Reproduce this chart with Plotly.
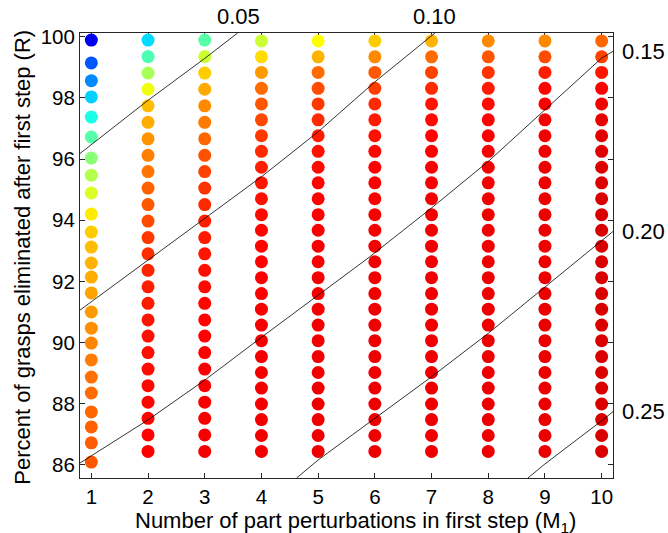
import plotly.graph_objects as go

# ---------------- data ----------------
M_values = [1, 2, 3, 4, 5, 6, 7, 8, 9, 10]

R_col1 = [99.89, 99.14, 98.56, 98.03, 97.37, 96.72, 96.03, 95.47, 94.89, 94.20,
          93.61, 93.12, 92.60, 92.14, 91.62, 91.00, 90.47, 89.98, 89.43, 88.87,
          88.35, 87.73, 87.24, 86.72, 86.09]
R_col2_3 = [99.89, 99.35, 98.81, 98.28, 97.74, 97.20, 96.66, 96.12, 95.59, 95.05,
            94.51, 93.97, 93.43, 92.90, 92.36, 91.82, 91.28, 90.74, 90.21, 89.67,
            89.13, 88.59, 88.05, 87.52, 86.98, 86.44]
R_col4_10 = [99.86, 99.34, 98.83, 98.31, 97.80, 97.28, 96.76, 96.25, 95.73, 95.22,
             94.70, 94.18, 93.67, 93.15, 92.64, 92.12, 91.60, 91.09, 90.57, 90.06,
             89.54, 89.02, 88.51, 87.99, 87.48, 86.96, 86.44]

# colour value (0..1 on jet scale) of each dot, top to bottom
C1 = [0.11, 0.21, 0.26, 0.33, 0.40, 0.46, 0.51, 0.55, 0.59, 0.645, 0.675, 0.69, 0.70,
      0.705, 0.715, 0.725, 0.735, 0.745, 0.755, 0.765, 0.77, 0.775, 0.78, 0.785, 0.79]
C2 = [0.34, 0.45, 0.54, 0.61, 0.69, 0.705, 0.73, 0.75, 0.76, 0.78, 0.79, 0.80, 0.82,
      0.83, 0.84, 0.845, 0.85, 0.855, 0.86, 0.862, 0.865, 0.868, 0.87, 0.872, 0.874, 0.875]
C3 = [0.46, 0.575, 0.675, 0.71, 0.74, 0.755, 0.775, 0.795, 0.81, 0.825, 0.835, 0.845, 0.85,
      0.855, 0.86, 0.865, 0.87, 0.873, 0.875, 0.877, 0.879, 0.88, 0.881, 0.882, 0.883, 0.884]
C4 = [0.575, 0.66, 0.725, 0.77, 0.79, 0.805, 0.82, 0.835, 0.845, 0.855, 0.86, 0.865, 0.87,
      0.873, 0.876, 0.878, 0.88, 0.882, 0.884, 0.885, 0.886, 0.887, 0.888, 0.888, 0.889, 0.889, 0.89]
C5 = [0.625, 0.70, 0.77, 0.80, 0.82, 0.835, 0.85, 0.86, 0.865, 0.87, 0.874, 0.877, 0.88,
      0.882, 0.884, 0.885, 0.886, 0.887, 0.888, 0.889, 0.89, 0.89, 0.891, 0.891, 0.892, 0.892, 0.892]
C6 = [0.675, 0.74, 0.79, 0.815, 0.835, 0.85, 0.86, 0.868, 0.873, 0.877, 0.88, 0.882, 0.884,
      0.886, 0.887, 0.888, 0.889, 0.89, 0.89, 0.891, 0.891, 0.892, 0.892, 0.893, 0.893, 0.893, 0.893]
C7 = [0.70, 0.77, 0.81, 0.835, 0.855, 0.865, 0.872, 0.877, 0.88, 0.883, 0.885, 0.887, 0.888,
      0.889, 0.89, 0.89, 0.891, 0.891, 0.892, 0.892, 0.892, 0.893, 0.893, 0.893, 0.893, 0.893, 0.893]
C8 = [0.74, 0.79, 0.825, 0.85, 0.865, 0.873, 0.878, 0.882, 0.885, 0.887, 0.888, 0.889, 0.89,
      0.89, 0.891, 0.891, 0.892, 0.892, 0.892, 0.893, 0.893, 0.893, 0.893, 0.893, 0.893, 0.893, 0.893]
C9 = [0.74, 0.80, 0.845, 0.87, 0.88, 0.885, 0.888, 0.89, 0.891, 0.892, 0.893, 0.893, 0.894,
      0.894, 0.894, 0.895, 0.895, 0.895, 0.895, 0.895, 0.895, 0.895, 0.895, 0.895, 0.895, 0.895, 0.895]
C10 = [0.775, 0.81, 0.855, 0.875, 0.89, 0.898, 0.903, 0.906, 0.908, 0.909, 0.91, 0.911, 0.912,
       0.912, 0.912, 0.912, 0.912, 0.912, 0.912, 0.912, 0.912, 0.912, 0.912, 0.912, 0.912, 0.912, 0.912]

# iso-lines (x points, y points)
line_labels = ["0.05", "0.10", "0.15", "0.20", "0.25"]
L05_x = [0.8, 2.0, 3.0, 3.58]
L05_y = [96.18, 97.92, 99.29, 100.12]
L10_x = [0.8, 2.92, 4.0, 5.0, 6.0, 7.06]
L10_y = [91.06, 93.95, 95.42, 96.89, 98.52, 100.12]
L15_x = [0.8, 2.0, 3.0, 4.0, 5.88, 7.0, 8.0, 9.0, 10.0, 10.2]
L15_y = [86.06, 87.47, 88.77, 90.17, 92.76, 94.40, 95.92, 97.61, 99.30, 99.52]
L20_x = [4.62, 5.0, 6.0, 7.0, 8.0, 9.0, 10.0, 10.2]
L20_y = [85.57, 86.16, 87.52, 88.88, 90.30, 91.82, 93.31, 93.63]
L25_x = [8.70, 9.0, 10.0, 10.2]
L25_y = [85.57, 86.03, 87.44, 87.74]

top_label_x = [3.60, 7.05]             # where 0.05 / 0.10 leave the top edge
right_label_y = [99.52, 93.63, 87.74]  # where 0.15 / 0.20 / 0.25 leave the right edge

x_ticks = [1, 2, 3, 4, 5, 6, 7, 8, 9, 10]
y_ticks = [86, 88, 90, 92, 94, 96, 98, 100]

# ---------------- figure ----------------
R_cols = [R_col1, R_col2_3, R_col2_3] + [R_col4_10] * 7
C_cols = [C1, C2, C3, C4, C5, C6, C7, C8, C9, C10]

xs, ys, cs = [], [], []
for m, rc, cc in zip(M_values, R_cols, C_cols):
    xs += [m] * len(rc)
    ys += rc
    cs += cc

jet = [[0.0, "rgb(0,0,128)"], [0.125, "rgb(0,0,255)"], [0.375, "rgb(0,255,255)"],
       [0.625, "rgb(255,255,0)"], [0.875, "rgb(255,0,0)"], [1.0, "rgb(128,0,0)"]]

FONT = "Liberation Sans, Arial, sans-serif"
TICK_SIZE = 20.5
LABEL_SIZE = 22

fig = go.Figure()
fig.add_trace(go.Scatter(
    x=xs, y=ys, mode="markers",
    marker=dict(size=13, color=cs, colorscale=jet, cmin=0, cmax=1, line=dict(width=0)),
    showlegend=False, hoverinfo="skip"))

for lx, ly in [(L05_x, L05_y), (L10_x, L10_y), (L15_x, L15_y), (L20_x, L20_y), (L25_x, L25_y)]:
    fig.add_trace(go.Scatter(x=lx, y=ly, mode="lines",
                             line=dict(color="black", width=0.8),
                             showlegend=False, hoverinfo="skip"))

axis_common = dict(showgrid=False, zeroline=False, showline=True, linecolor="#262626",
                   linewidth=1, ticks="inside", ticklen=5, tickcolor="#262626",
                   tickfont=dict(family=FONT, size=TICK_SIZE, color="black"))

annotations = [
    dict(text="Number of part perturbations in first step (M<sub>1</sub>)",
         xref="paper", yref="paper", x=(355.5 - 80) / 533, y=(478 - 522) / 445,
         xanchor="center", yanchor="middle", showarrow=False,
         font=dict(family=FONT, size=LABEL_SIZE, color="black")),
    dict(text="Percent of grasps eliminated after first step (R)",
         xref="paper", yref="paper", x=(21.7 - 80) / 533, y=(478 - 257) / 445,
         xanchor="center", yanchor="middle", textangle=-90, showarrow=False,
         font=dict(family=FONT, size=LABEL_SIZE, color="black")),
]
for xv, lab in zip(top_label_x, line_labels[:2]):
    annotations.append(dict(text=lab, xref="x", yref="paper", x=xv, y=1, yshift=16.5,
                            xanchor="center", yanchor="middle", showarrow=False,
                            font=dict(family=FONT, size=LABEL_SIZE, color="black")))
for yv, lab in zip(right_label_y, line_labels[2:]):
    annotations.append(dict(text=lab, xref="paper", yref="y", x=1, y=yv, xshift=7,
                            xanchor="left", yanchor="middle", showarrow=False,
                            font=dict(family=FONT, size=LABEL_SIZE, color="black")))

fig.update_layout(
    width=668, height=533,
    margin=dict(l=80, r=55, t=33, b=55, pad=0),
    paper_bgcolor="white", plot_bgcolor="white",
    xaxis=dict(range=[0.8, 10.2], tickvals=x_ticks, mirror="ticks",
               layer="below traces", **axis_common),
    yaxis=dict(range=[85.57, 100.12], tickvals=y_ticks, mirror="ticks",
               layer="below traces", **axis_common),
    annotations=annotations,
)

fig.write_html("out.html", config={"displayModeBar": False})

# remove the default page margin so the figure sits at the window's top-left corner
with open("out.html", "r", encoding="utf-8") as f:
    page = f.read()
page = page.replace("<head>", "<head><style>html,body{margin:0;padding:0;overflow:hidden;}</style>", 1)
with open("out.html", "w", encoding="utf-8") as f:
    f.write(page)
